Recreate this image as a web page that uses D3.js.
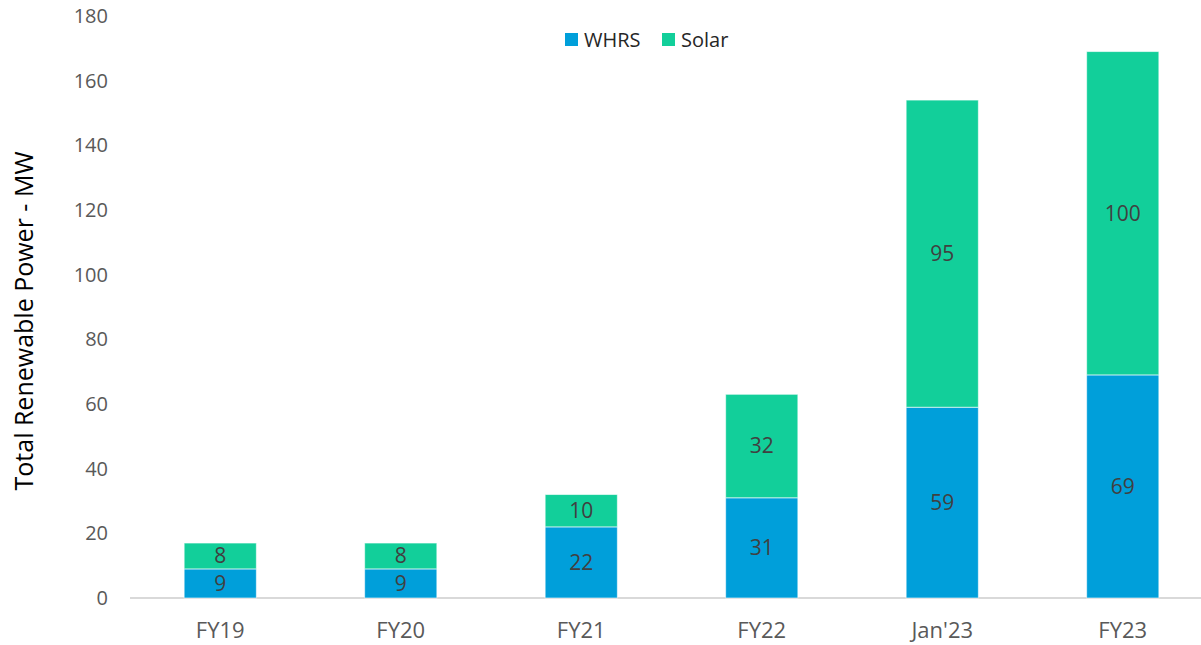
<!DOCTYPE html>
<html>
<head>
<meta charset="utf-8">
<script src="https://cdn.jsdelivr.net/npm/d3@7"></script>
<style>
  html, body { margin: 0; padding: 0; background: #fff; }
  svg { display: block; font-family: "Open Sans", "Noto Sans", sans-serif; }
</style>
</head>
<body>
<svg id="chart" width="1201" height="645"></svg>
<script>
// Installed renewable capacity by period (MW)
const categories = ["FY19", "FY20", "FY21", "FY22", "Jan'23", "FY23"];
const whrs = [9, 9, 22, 31, 59, 69];
const solar = [8, 8, 10, 32, 95, 100];
const yTicks = [0, 20, 40, 60, 80, 100, 120, 140, 160, 180];
const seriesNames = ["WHRS", "Solar"];
const seriesColors = ["#009FDA", "#12CF9A"];

const svg = d3.select("#chart");
const W = 1201, H = 645;

const rows = categories.map((c, i) => ({ cat: c, WHRS: whrs[i], Solar: solar[i] }));
const stacked = d3.stack().keys(seriesNames)(rows);

const x = d3.scaleBand().domain(categories).range([130, 1213]).paddingInner(0.6).paddingOuter(0.3);
const y = d3.scaleLinear().domain([0, 180]).range([598, 16]);

// Baseline
svg.append("line")
  .attr("x1", 130).attr("x2", W)
  .attr("y1", y(0)).attr("y2", y(0))
  .attr("stroke", "#d9d9d9").attr("stroke-width", 2);

// Y axis tick labels
const yAxis = d3.axisLeft(y).tickValues(yTicks).tickSize(0).tickPadding(0);
const gy = svg.append("g").attr("transform", "translate(108,0)").call(yAxis);
gy.select(".domain").remove();
gy.selectAll("text")
  .attr("fill", "#595959")
  .style("font-size", "20px")
  .style("font-family", "'Open Sans', sans-serif");

// X axis category labels
const xAxis = d3.axisBottom(x).tickSize(0).tickPadding(0);
const gx = svg.append("g").attr("transform", "translate(0,622)").call(xAxis);
gx.select(".domain").remove();
gx.selectAll("text")
  .attr("fill", "#595959")
  .style("font-size", "22px")
  .style("font-family", "'Open Sans', sans-serif");

// Stacked bars
const layers = svg.append("g").selectAll("g")
  .data(stacked).join("g")
  .attr("fill", (d, i) => seriesColors[i]);

layers.selectAll("rect")
  .data(d => d.map(v => ({ v, cat: v.data.cat })))
  .join("rect")
  .attr("x", d => x(d.cat))
  .attr("width", x.bandwidth())
  .attr("y", d => y(d.v[1]))
  .attr("height", d => y(d.v[0]) - y(d.v[1]))
  .attr("stroke", "rgba(255,255,255,0.6)")
  .attr("stroke-width", 1);

// Segment value labels
layers.selectAll("text")
  .data(d => d.map(v => ({ v, cat: v.data.cat })))
  .join("text")
  .attr("x", d => x(d.cat) + x.bandwidth() / 2)
  .attr("y", d => y((d.v[0] + d.v[1]) / 2))
  .attr("dy", "0.35em")
  .attr("text-anchor", "middle")
  .attr("fill", "#404040")
  .style("font-size", "21px")
  .text(d => d.v[1] - d.v[0]);

// Y axis title
svg.append("text")
  .attr("transform", "translate(33,321) rotate(-90)")
  .attr("text-anchor", "middle")
  .attr("fill", "#000")
  .style("font-size", "25px")
  .text("Total Renewable Power - MW");

// Legend
const legend = svg.append("g").attr("transform", "translate(565,40)");
const legendX = [0, 97];
seriesNames.forEach((name, i) => {
  const g = legend.append("g").attr("transform", `translate(${legendX[i]},0)`);
  g.append("rect").attr("x", 0).attr("y", -7).attr("width", 13).attr("height", 13).attr("fill", seriesColors[i]);
  g.append("text").attr("x", 19).attr("y", 0).attr("dy", "0.35em")
    .attr("fill", "#262626").style("font-size", "20px").text(name);
});
</script>
</body>
</html>
